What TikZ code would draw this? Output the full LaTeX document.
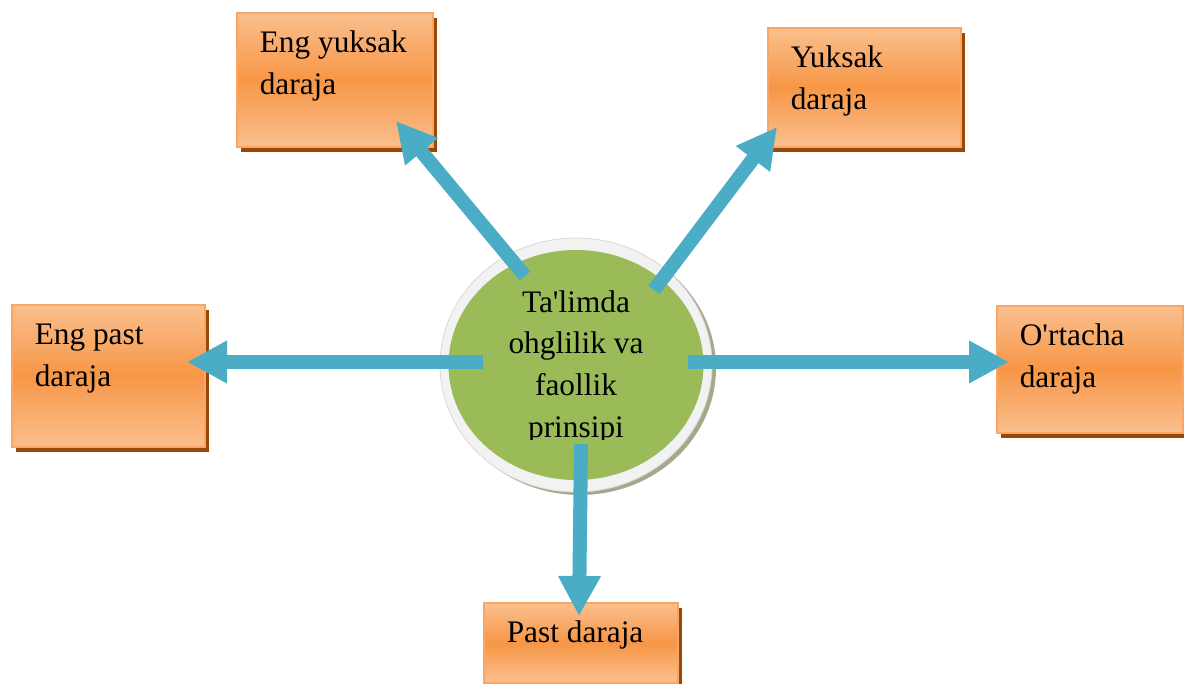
\documentclass[tikz,border=0pt]{standalone}
\usepackage{fontspec}
\setmainfont{Liberation Serif}
\usetikzlibrary{arrows.meta,shapes.geometric,shadows}
\definecolor{peach}{HTML}{FAC08F}
\definecolor{orng}{HTML}{F79646}
\definecolor{bord}{HTML}{F8A565}
\definecolor{brn}{HTML}{984807}
\definecolor{grn}{HTML}{9BBB59}
\definecolor{ringc}{HTML}{F2F2F2}
\definecolor{ringline}{HTML}{D9D9D9}
\definecolor{cshadow}{HTML}{A4A98C}
\definecolor{aqua}{HTML}{4BACC6}
\newcommand\bxtxt[3]{\parbox[t][#2][t]{#1}{\leftskip=17.25pt\relax\rule{0pt}{30pt}#3}}
\begin{document}
\begin{tikzpicture}[x=0.75pt,y=-0.75pt,
  box/.style={rectangle, inner sep=0pt, anchor=north west, draw=bord, line width=1.2pt,
    top color=peach, bottom color=peach, middle color=orng,
    drop shadow={shadow xshift=3pt, shadow yshift=-3.75pt, fill=brn, opacity=1},
    font=\fontsize{23.5}{31.5}\selectfont},
  arr/.style={draw=aqua, line width=10.5pt, -{Triangle[width=30pt,length=30pt]}},
  ctext/.style={inner sep=0pt, anchor=base, font=\fontsize{23.5}{31.3}\selectfont}]
\useasboundingbox (0,0) rectangle (1184,684);

% boxes
\node[box] (b1) at (236,12)  {\bxtxt{147pt}{100.5pt}{Eng yuksak\\daraja}};
\node[box] (b2) at (767,27)  {\bxtxt{144.75pt}{89.25pt}{Yuksak\\daraja}};
\node[box] (b3) at (11,304)  {\bxtxt{144.75pt}{106.5pt}{Eng past\\daraja}};
\node[box] (b4) at (996,305) {\bxtxt{139.5pt}{95.25pt}{O\textquotesingle rtacha\\daraja}};
\node[box] (b5) at (483,602) {\bxtxt{145.5pt}{60pt}{Past daraja}};

% circle
\fill[cshadow] (580,368) ellipse [x radius=136, y radius=127];
\node[ellipse, inner sep=0pt, minimum width=204pt, minimum height=190.5pt,
      fill=ringc, draw=ringline, line width=0.6pt] (c) at (576,365) {};
\fill[grn] (c.center) ellipse [x radius=127.5, y radius=115];
\begin{scope}
  \clip (440,240) rectangle (712,439);
  \node[ctext] (ct) at (576,312) {\parbox[t]{200pt}{\centering Ta\textquotesingle limda\\ohglilik va\\faollik\\prinsipi}};
\end{scope}

% connectors
\coordinate (s1) at (525,276);  \coordinate (t1) at (396,121);
\coordinate (s2) at (654,290);  \coordinate (t2) at (777,127);
\coordinate (s3) at (483,362);  \coordinate (t3) at (187,362);
\coordinate (s4) at (688,362);  \coordinate (t4) at (1009,362);
\coordinate (s5) at (581,444);  \coordinate (t5) at (579,616);
\draw[arr] (s1) -- (t1);
\draw[arr] (s2) -- (t2);
\draw[arr] (s3) -- (t3);
\draw[arr] (s4) -- (t4);
\draw[arr] (s5) -- (t5);
\end{tikzpicture}
\end{document}
